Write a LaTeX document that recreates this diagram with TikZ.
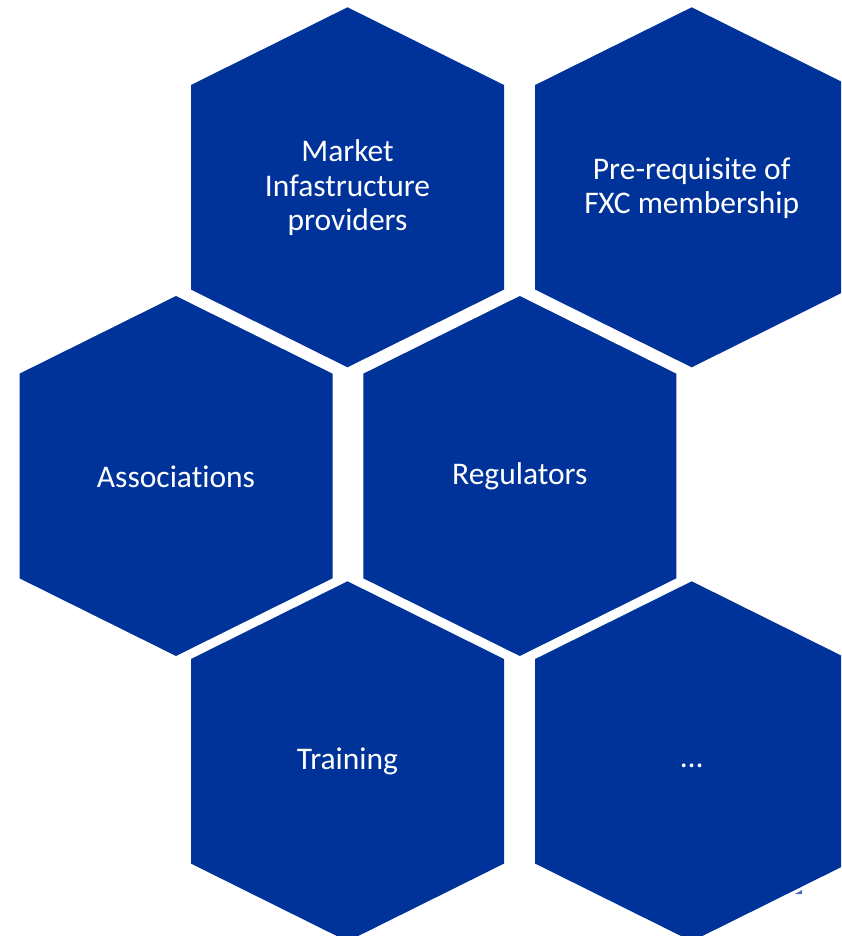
\documentclass[tikz,border=0pt]{standalone}
\usepackage{fontspec}
\setmainfont[Ligatures=NoCommon]{Carlito}
\definecolor{hexblue}{HTML}{003399}
\tikzset{
  hexfill/.style={fill=hexblue},
  lbl/.style={text=white, align=center, font=\fontsize{31.5}{34.5}\selectfont, inner sep=0pt}
}
\newcommand\hexat[1]{\fill[hexfill] (#1) ++(0,-180) -- ++(156.5,77.7) -- ++(0,204.6) -- ++(-156.5,77.7) -- ++(-156.5,-77.7) -- ++(0,-204.6) -- cycle;}
\begin{document}
\begin{tikzpicture}[x=1pt,y=-1pt]
\useasboundingbox (0,0) rectangle (841,936);
\clip (0,0) rectangle (841,936);
\coordinate (cA1) at (347.5,187.3);
\coordinate (cA2) at (691.7,187.3);
\coordinate (cB1) at (176,476);
\coordinate (cB2) at (519.8,476);
\coordinate (cC1) at (347.5,761.3);
\coordinate (cC2) at (691.7,761.3);
\hexat{cA1}
\hexat{cA2}
\hexat{cB1}
\hexat{cB2}
\hexat{cC1}
\hexat{cC2}
\fill[hexblue!70] (795,894) -- (802,890) -- (802,894) -- cycle;
\node[lbl] (market) at (347.5,188) {Market\\Infastructure\\providers};
\node[lbl] (prereq) at (691.7,188) {Pre-requisite of\\FXC membership};
\node[lbl] (assoc) at (176,476.5) {Associations};
\node[lbl] (regul) at (519.8,476.5) {Regulators};
\node[lbl] (train) at (347.5,761.5) {Training};
\node[lbl] (more) at (691.7,766) {…};
\end{tikzpicture}
\end{document}
